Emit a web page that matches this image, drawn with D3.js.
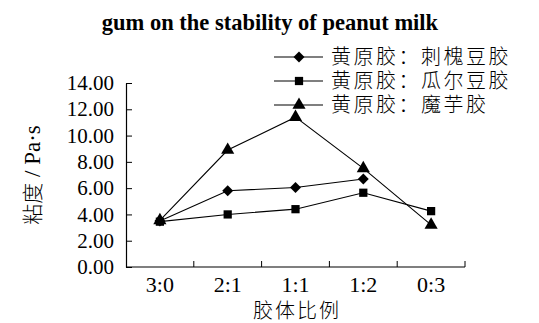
<!DOCTYPE html>
<html>
<head>
<meta charset="utf-8">
<script src="https://cdn.jsdelivr.net/npm/d3@7"></script>
<style>
  body { margin: 0; background: #fff; }
  svg { display: block; }
</style>
</head>
<body>
<div id="app"></div>
<script>
const categories = ["3:0", "2:1", "1:1", "1:2", "0:3"];
const yTicks = [0, 2, 4, 6, 8, 10, 12, 14];
const seriesNames = ["黄原胶：刺槐豆胶", "黄原胶：瓜尔豆胶", "黄原胶：魔芋胶"];
const locustBean = [3.5, 5.8, 6.05, 6.7, null];
const guar = [3.45, 4.0, 4.4, 5.65, 4.25];
const konjac = [3.55, 8.9, 11.4, 7.5, 3.2];

const SERIF = "'Liberation Serif', 'Times New Roman', serif";
const CJK = "'Noto Sans CJK SC', sans-serif";

// diamond = square turned 45 degrees
const series = [
    { name: seriesNames[0], values: locustBean, symbol: d3.symbolSquare, size: 60, rotate: 45 },
    { name: seriesNames[1], values: guar, symbol: d3.symbolSquare, size: 68, rotate: 0 },
    { name: seriesNames[2], values: konjac, symbol: d3.symbolTriangle, size: 75, rotate: 0 }
];

let dims = { width: 539, height: 323, left: 126, right: 465, top: 83, bottom: 267 };

let svg = d3.select("#app")
    .append("svg")
        .attr("width", dims.width)
        .attr("height", dims.height);

// title
svg.append("text")
    .attr("font-family", SERIF)
    .attr("x", 270)
    .attr("y", 30)
    .attr("text-anchor", "middle")
    .attr("font-size", 22.5)
    .attr("font-weight", "bold")
    .text("gum on the stability of peanut milk");

const x = d3.scaleBand()
    .domain(categories)
    .range([dims.left, dims.right]);

const y = d3.scaleLinear()
    .domain([0, 14])
    .range([dims.bottom, dims.top]);

// Y axis, ticks point inward
let yAxis = svg.append("g")
    .attr("transform", `translate(${dims.left},0)`)
    .call(d3.axisRight(y).tickValues(yTicks).tickSize(6).tickSizeOuter(0).tickFormat(""));
yAxis.select(".domain").attr("stroke-width", 1.2);

svg.append("g")
    .selectAll("text")
    .data(yTicks)
    .join("text")
        .attr("font-family", SERIF)
        .attr("x", dims.left - 12)
        .attr("y", d => y(d))
        .attr("dy", "0.34em")
        .attr("text-anchor", "end")
        .attr("font-size", 21)
        .text(d => d.toFixed(2));

// X axis: ticks at band boundaries, pointing up
let xAxis = svg.append("g")
    .attr("transform", `translate(0,${dims.bottom})`);
xAxis.append("line")
    .attr("x1", dims.left).attr("x2", dims.right)
    .attr("stroke", "#000").attr("stroke-width", 1.2);
xAxis.selectAll(".tick")
    .data(categories)
    .join("line")
        .attr("class", "tick")
        .attr("x1", d => x(d) + x.bandwidth())
        .attr("x2", d => x(d) + x.bandwidth())
        .attr("y1", 0).attr("y2", -6)
        .attr("stroke", "#000");
xAxis.selectAll("text")
    .data(categories)
    .join("text")
        .attr("font-family", SERIF)
        .attr("x", d => x(d) + x.bandwidth() / 2)
        .attr("y", 25)
        .attr("text-anchor", "middle")
        .attr("font-size", 22)
        .text(d => d);

// axis labels
svg.append("text")
    .attr("font-family", CJK)
    .attr("font-weight", 300)
    .attr("x", 297)
    .attr("y", 318)
    .attr("text-anchor", "middle")
    .attr("font-size", 20)
    .attr("letter-spacing", 2)
    .text("胶体比例");

let yLabel = svg.append("text")
    .attr("transform", "translate(40,175) rotate(-90)")
    .attr("text-anchor", "middle")
    .attr("font-size", 21);
yLabel.append("tspan").attr("font-family", CJK).attr("font-weight", 300).text("粘度");
yLabel.append("tspan").attr("font-family", SERIF).attr("font-size", 23).text(" / Pa·s");

// lines and markers
const line = d3.line()
    .defined(d => d.v != null)
    .x(d => x(d.c) + x.bandwidth() / 2)
    .y(d => y(d.v));

series.forEach(s => {
    const pts = categories.map((c, i) => ({ c: c, v: s.values[i] }));
    svg.append("path")
        .datum(pts)
        .attr("fill", "none")
        .attr("stroke", "#000")
        .attr("stroke-width", 1.1)
        .attr("d", line);
    svg.selectAll(null)
        .data(pts.filter(d => d.v != null))
        .join("path")
            .attr("transform", d => `translate(${x(d.c) + x.bandwidth() / 2},${y(d.v)}) rotate(${s.rotate})`)
            .attr("d", d3.symbol(s.symbol, s.size))
            .attr("fill", "#000");
});

// legend
let legend = svg.append("g")
    .attr("transform", "translate(274,57)");
series.forEach((s, i) => {
    let row = legend.append("g").attr("transform", `translate(0,${i * 24})`);
    row.append("line")
        .attr("x1", 0).attr("x2", 49)
        .attr("stroke", "#000").attr("stroke-width", 1.1);
    row.append("path")
        .attr("transform", `translate(25,0) rotate(${s.rotate})`)
        .attr("d", d3.symbol(s.symbol, s.size))
        .attr("fill", "#000");
    row.append("text")
        .attr("font-family", CJK)
        .attr("font-weight", 300)
        .attr("x", 57)
        .attr("dy", "0.36em")
        .attr("font-size", 20)
        .attr("letter-spacing", 2.5)
        .text(s.name);
});
</script>
</body>
</html>
